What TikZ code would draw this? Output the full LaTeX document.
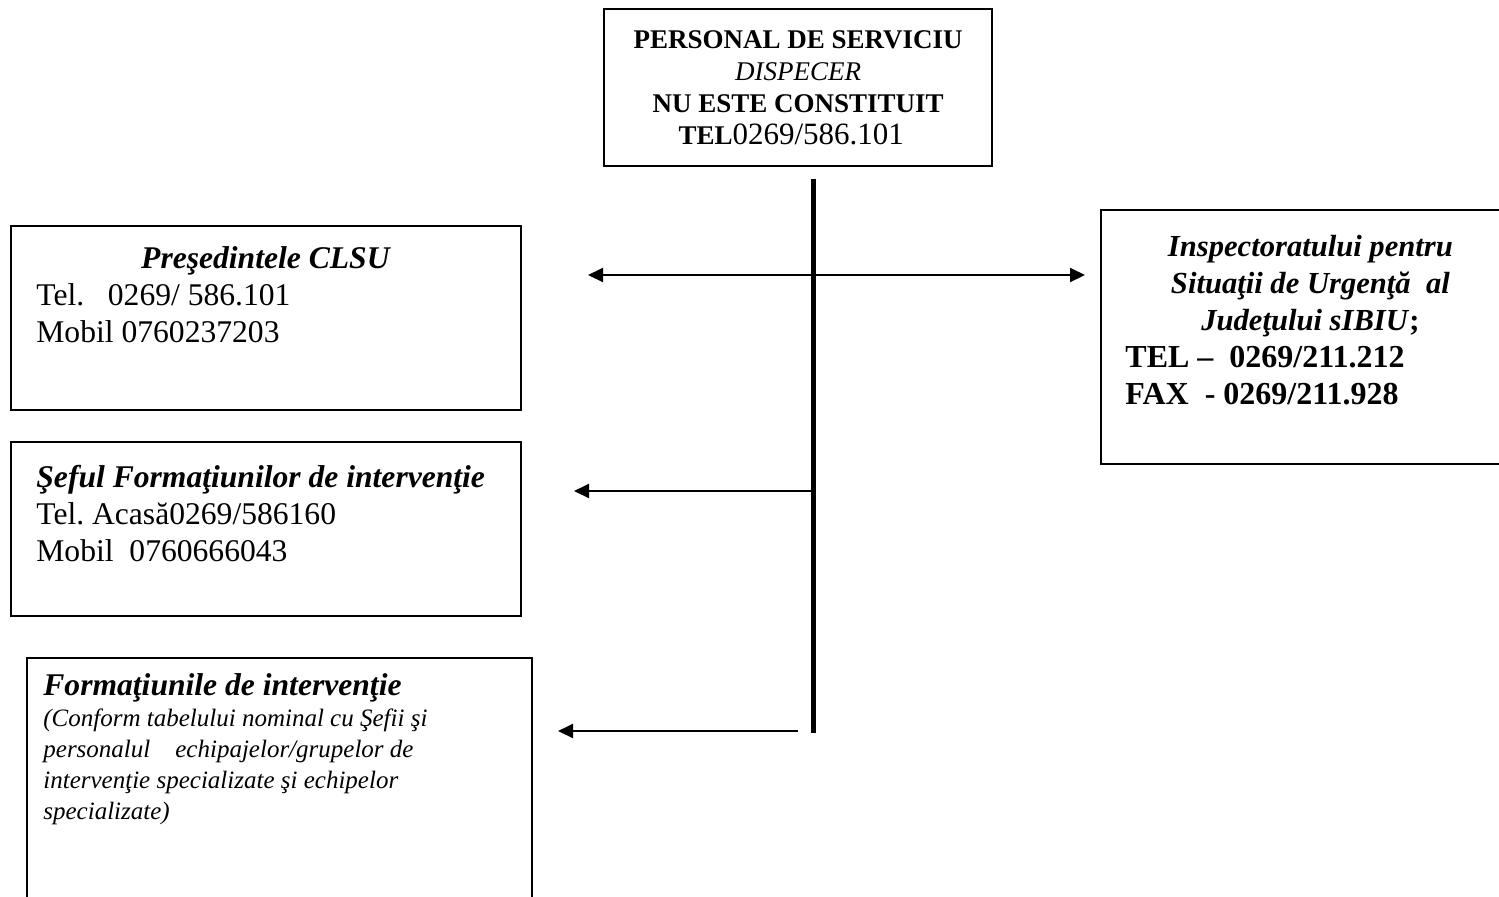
\documentclass[tikz,border=0pt]{standalone}
\usepackage{fontspec}
\setmainfont{Liberation Serif}
\frenchspacing
\usetikzlibrary{arrows.meta}
\tikzset{
    raw box/.style={rectangle, draw, line width=1.2pt, inner sep=0pt, anchor=north west},
    info box/.style={raw box, minimum width=255pt},
    box text/.style={anchor=base west, inner sep=0pt, align=flush left, font=\fontsize{15.8}{18.5}\selectfont},
    trunk/.style={line width=2.5pt},
    link/.style={line width=1pt}
}

\begin{document}
\begin{tikzpicture}[x=0.5pt, y=-0.5pt, >={Triangle[length=7.5pt,width=7pt]}]
	\useasboundingbox (0,0) rectangle (1499,896);
	% boxes
	\node[raw box, minimum width=194pt, minimum height=78.5pt, align=center,
		font=\fontsize{13.5}{16}\selectfont\bfseries] (disp) at (603,8)
		{PERSONAL DE SERVICIU\\ {\mdseries\itshape DISPECER}\\ NU ESTE CONSTITUIT\\
		 TEL{\mdseries\fontsize{15.5}{18}\selectfont 0269/586.101}\hspace*{7pt}};
	\node[info box, minimum height=92pt] (pres) at (10,225) {};
	\node[info box, minimum height=87pt] (sef) at (10,441) {};
	\node[raw box, minimum width=252.5pt, minimum height=140pt] (form) at (26,657) {};
	\node[raw box, minimum width=210pt, minimum height=127pt] (isu) at (1100,209) {};
	% texts
	\node[box text, text width=229pt] (pres text) at (36,268)
		{{\centering\bfseries\itshape Preşedintele CLSU\par}
		 Tel.\ \ \ 0269/ 586.101\\ Mobil 0760237203};
	\node[box text, text width=240pt] (sef text) at (36,487)
		{\textbf{\textit{Şeful Formaţiunilor de intervenţie}}\\
		 Tel. Acasă0269/586160\\ Mobil\ \ 0760666043};
	\node[box text, text width=240pt] (form text) at (43,695)
		{\textbf{\textit{Formaţiunile de intervenţie}}\par
		 {\fontsize{12.5}{15.5}\selectfont\itshape (Conform tabelului nominal cu Şefii şi\\
		 personalul\ \ \ \ echipajelor/grupelor de\\
		 intervenţie specializate şi echipelor\\ specializate)\par}};
	\node[box text, text width=185pt] (isu text) at (1125,256)
		{{\centering\fontsize{15.3}{18.5}\selectfont\bfseries\itshape Inspectoratului pentru\\
		  Situaţii de Urgenţă\ \ al\\ Judeţului sIBIU\/{\upshape;}\par}
		 {\fontsize{16}{18.5}\selectfont\bfseries TEL --\ \ 0269/211.212\\ FAX\ \ - 0269/211.928\par}};
	% connectors
	\coordinate (trunk top) at (813,179);
	\coordinate (trunk end) at (813,733);
	\coordinate (to pres) at (588,275);
	\coordinate (to isu) at (1085,275);
	\coordinate (from sef) at (811,491);
	\coordinate (to sef) at (574,491);
	\coordinate (from form) at (798,731);
	\coordinate (to form) at (558,731);
	\draw[trunk] (trunk top) -- (trunk end);
	\draw[link, <->] (to pres) -- (to isu);
	\draw[link, ->] (from sef) -- (to sef);
	\draw[link, ->] (from form) -- (to form);
\end{tikzpicture}
\end{document}
